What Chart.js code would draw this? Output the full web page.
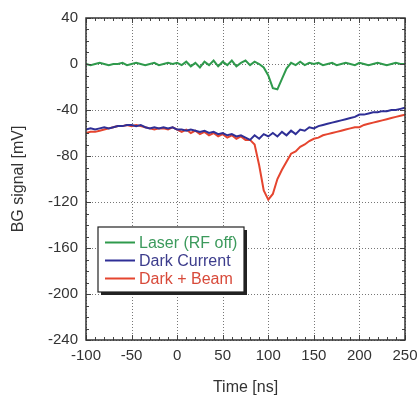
<!DOCTYPE html>
<html>
<head>
<meta charset="utf-8">
<script src="https://cdn.jsdelivr.net/npm/chart.js@4/dist/chart.umd.min.js"></script>
<style>
  html, body { margin: 0; padding: 0; background: #fff; }
  #wrap { width: 419px; height: 396px; position: relative; }
</style>
</head>
<body>
<div id="wrap"><canvas id="chart"></canvas></div>
<script>
// time axis, -100 .. 250 ns in 5 ns steps
const times = [];
for (let t = -100; t <= 250; t += 5) times.push(t);

// BG signal [mV]
const laser = [
    0, -1, 0, 1, 0, -1, 0, 0, 1, -1, 0, 1, 0, -1, 0, 1, -1, 0, 1, 0,
    1, -1, 2, -2, 1, -3, 2, -1, 3, -2, 2, -1, 3, -2, 1, 3, -1, 2,
    0, -3, -10, -21, -22, -13, -4, 1, -1, 2, -1, 1, 0,
    1, -1, 0, 1, -1, 0, 1, 0, -1, 1, 0, -1, 0, 1, 0, -1, 0, 1, 0, 0
];
const darkCurrent = [
    -57, -56, -57, -56, -55, -56, -55, -54, -54, -53, -53, -54, -53, -55, -56, -55, -56, -55, -56, -55,
    -57, -57, -58, -57, -58, -59, -58, -60, -59, -61, -60, -62, -61, -63, -62, -64, -66, -62,
    -65, -61, -63, -60, -63, -59, -62, -58, -61, -57, -58, -55, -56,
    -54, -53, -52, -51, -50, -49, -48, -47, -46, -44, -44, -43, -42, -42, -41, -41, -40, -40, -39, -38
];
const darkBeam = [
    -60, -59, -59, -58, -57, -56, -55, -54, -54, -53, -54, -53, -54, -55, -56, -57, -56, -56, -57, -55,
    -57, -59, -57, -60, -58, -61, -59, -62, -60, -63, -61, -64, -62, -65, -63, -66, -66, -70,
    -88, -110, -118, -113, -100, -92, -85, -78, -76, -72, -70, -67, -65,
    -64, -62, -61, -60, -59, -58, -57, -56, -55, -55, -53, -52, -51, -50, -49, -48, -47, -46, -45, -44
];

const seriesLabels = ['Laser (RF off)', 'Dark Current', 'Dark + Beam'];
const seriesColors = ['#2f9a4c', '#2f2f96', '#e5452f'];
const legendTextColors = ['#3c9a5c', '#3c3c8c', '#d84a3a'];
const xTicks = [-100, -50, 0, 50, 100, 150, 200, 250];
const yTicks = [40, 0, -40, -80, -120, -160, -200, -240];

const FONT = "'Liberation Sans', Arial, sans-serif";

function toPoints(values) {
    return values.map((v, i) => ({ x: times[i], y: v }));
}

// dotted grid behind the lines
const dottedGrid = {
    id: 'dottedGrid',
    beforeDatasetsDraw(chart) {
        const { ctx, chartArea: a, scales: { x, y } } = chart;
        ctx.save();
        ctx.strokeStyle = '#777';
        ctx.lineWidth = 1;
        ctx.setLineDash([1, 2]);
        ctx.beginPath();
        xTicks.forEach(v => {
            const px = Math.round(x.getPixelForValue(v)) + 0.5;
            ctx.moveTo(px, a.top); ctx.lineTo(px, a.bottom);
        });
        yTicks.forEach(v => {
            const py = Math.round(y.getPixelForValue(v)) + 0.5;
            ctx.moveTo(a.left, py); ctx.lineTo(a.right, py);
        });
        ctx.stroke();
        ctx.restore();
    }
};

// minor / major ticks on all four sides, pointing inwards
const frameTicks = {
    id: 'frameTicks',
    afterDraw(chart) {
        const { ctx, chartArea: a, scales: { x, y } } = chart;
        ctx.save();
        ctx.strokeStyle = '#444';
        ctx.lineWidth = 1;
        ctx.beginPath();
        for (let v = -100; v <= 250; v += 10) {
            const px = Math.round(x.getPixelForValue(v)) + 0.5;
            const len = v % 50 === 0 ? 5 : 3;
            ctx.moveTo(px, a.bottom); ctx.lineTo(px, a.bottom - len);
            ctx.moveTo(px, a.top); ctx.lineTo(px, a.top + len);
        }
        for (let v = -240; v <= 40; v += 10) {
            const py = Math.round(y.getPixelForValue(v)) + 0.5;
            const len = v % 40 === 0 ? 5 : 3;
            ctx.moveTo(a.left, py); ctx.lineTo(a.left + len, py);
            ctx.moveTo(a.right, py); ctx.lineTo(a.right - len, py);
        }
        ctx.stroke();
        ctx.strokeStyle = '#333';
        ctx.lineWidth = 1.5;
        ctx.strokeRect(a.left, a.top, a.right - a.left, a.bottom - a.top);
        ctx.restore();
    }
};

// boxed legend with drop shadow inside the plot
const boxLegend = {
    id: 'boxLegend',
    afterDraw(chart) {
        const { ctx } = chart;
        const bx = 98, by = 227, bw = 146, bh = 65;
        ctx.save();
        ctx.fillStyle = '#222';
        ctx.fillRect(bx + 3, by + 3, bw, bh);
        ctx.fillStyle = '#fff';
        ctx.fillRect(bx, by, bw, bh);
        ctx.strokeStyle = '#222';
        ctx.lineWidth = 1.2;
        ctx.strokeRect(bx, by, bw, bh);
        ctx.font = '16px ' + FONT;
        ctx.textBaseline = 'middle';
        chart.data.datasets.forEach((ds, i) => {
            const cy = by + 15.5 + i * 18;
            ctx.strokeStyle = ds.borderColor;
            ctx.lineWidth = 2;
            ctx.beginPath();
            ctx.moveTo(bx + 7, cy);
            ctx.lineTo(bx + 37, cy);
            ctx.stroke();
            ctx.fillStyle = legendTextColors[i];
            ctx.fillText(ds.label, bx + 41, cy + 1);
        });
        ctx.restore();
    }
};

new Chart(document.getElementById('chart'), {
    type: 'line',
    data: {
        datasets: [
            { label: seriesLabels[0], data: toPoints(laser), borderColor: seriesColors[0] },
            { label: seriesLabels[1], data: toPoints(darkCurrent), borderColor: seriesColors[1] },
            { label: seriesLabels[2], data: toPoints(darkBeam), borderColor: seriesColors[2] }
        ]
    },
    options: {
        responsive: true,
        maintainAspectRatio: false,
        animation: false,
        layout: { padding: { left: 6, right: 14, top: 18, bottom: 0 } },
        elements: {
            line: { borderWidth: 2, tension: 0 },
            point: { radius: 0 }
        },
        plugins: {
            legend: { display: false },
            tooltip: { enabled: false }
        },
        scales: {
            x: {
                type: 'linear',
                min: -100,
                max: 250,
                afterBuildTicks: s => { s.ticks = xTicks.map(v => ({ value: v })); },
                afterFit: s => { s.height = 56; s.paddingLeft = 0; s.paddingRight = 0; },
                ticks: { color: '#333', font: { family: FONT, size: 15 }, padding: 7, maxRotation: 0 },
                grid: { display: false, drawTicks: false },
                border: { display: false },
                title: {
                    display: true,
                    text: 'Time [ns]',
                    color: '#333',
                    font: { family: FONT, size: 16, lineHeight: 1 },
                    padding: { top: 0, bottom: 0 }
                }
            },
            y: {
                type: 'linear',
                min: -240,
                max: 40,
                afterBuildTicks: s => { s.ticks = yTicks.map(v => ({ value: v })); },
                afterFit: s => { s.width = 80; s.paddingTop = 0; s.paddingBottom = 0; },
                ticks: { color: '#333', font: { family: FONT, size: 15 }, padding: 8 },
                grid: { display: false, drawTicks: false },
                border: { display: false },
                title: {
                    display: true,
                    text: 'BG signal [mV]',
                    color: '#333',
                    font: { family: FONT, size: 16 },
                    padding: { top: 3, bottom: 0 }
                }
            }
        }
    },
    plugins: [dottedGrid, frameTicks, boxLegend]
});
</script>
</body>
</html>
